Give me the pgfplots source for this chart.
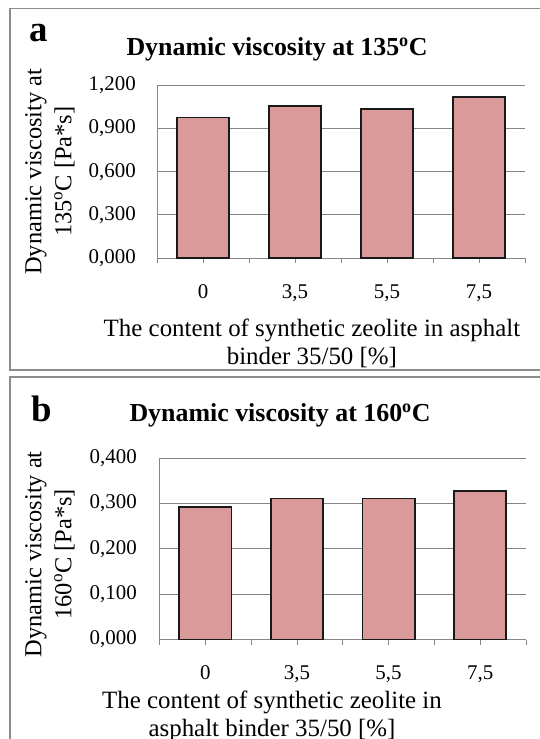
\documentclass[border=0pt]{standalone}
\usepackage{pgfplots}
\pgfplotsset{compat=1.18}
\usepackage{fontspec}
\setmainfont{Liberation Serif}
\definecolor{barfill}{HTML}{D99A99}
\definecolor{gridgray}{HTML}{868686}
\definecolor{framegray}{HTML}{8C8C8C}

\pgfplotsset{
  vischart/.style={
    scale only axis,
    xmin=-0.5, xmax=3.5, ymin=0,
    axis x line*=bottom, axis y line*=left,
    axis line style={gridgray, line width=1bp, -},
    ymajorgrids, major grid style={gridgray, line width=1bp},
    xtick={0,1,2,3}, xticklabels={0,{3,5},{5,5},{7,5}},
    minor xtick={-0.5,0.5,1.5,2.5,3.5},
    xtick style={gridgray, line width=0.8bp},
    tick align=inside,
    major tick length=5bp, minor tick length=5bp,
    ytick style={draw=none},
    /pgf/number format/fixed,
    /pgf/number format/fixed zerofill,
    /pgf/number format/precision=3,
    /pgf/number format/use comma,
    /pgf/number format/1000 sep={},
    /pgf/number format/assume math mode=true,
    yticklabel style={font=\fontsize{21}{25}\selectfont, inner sep=0pt, anchor=east},
    xticklabel style={font=\fontsize{21}{25}\selectfont, inner sep=0pt, anchor=north},
    xlabel style={font=\fontsize{25}{28}\selectfont, align=center, inner sep=0pt, anchor=north},
    ylabel style={font=\fontsize{24.5}{30}\selectfont, align=center, inner sep=0pt, anchor=center},
    ybar, bar width=0.57,
  }
}

\begin{document}
\begin{tikzpicture}
\useasboundingbox (0,0) rectangle (540bp,-739bp);
% panel frames
\draw[framegray, line width=1.5bp] (540bp,-8.5bp) -- (10bp,-8.5bp) -- (10bp,-370bp) -- (540bp,-370bp);
\draw[framegray, line width=1.5bp] (540bp,-377bp) -- (10bp,-377bp) -- (10bp,-739bp);

% panel labels and titles
\node[anchor=base west, inner sep=0pt, font=\bfseries\fontsize{37}{40}\selectfont] at (29bp,-41bp) {a};
\node[anchor=base, inner sep=0pt, font=\bfseries\fontsize{26}{30}\selectfont] at (277bp,-55bp) {Dynamic viscosity at 135\textsuperscript{o}C};
\node[anchor=base west, inner sep=0pt, font=\bfseries\fontsize{37}{40}\selectfont] at (31bp,-421.5bp) {b};
\node[anchor=base, inner sep=0pt, font=\bfseries\fontsize{26}{30}\selectfont] at (280bp,-421bp) {Dynamic viscosity at 160\textsuperscript{o}C};

% panel a
\begin{axis}[vischart,
  at={(157bp,-258.3bp)}, anchor=south west,
  width=368bp, height=173.3bp,
  ymax=1.2, ytick={0,0.3,0.6,0.9,1.2},
  yticklabel style={xshift=-21bp},
  xticklabel style={yshift=-21.5bp},
  xlabel={The content of synthetic zeolite in asphalt\\binder 35/50 [\%]},
  xlabel style={at={(axis description cs:0.421,0)}, yshift=-60.2bp},
  ylabel={Dynamic viscosity at\\135\textsuperscript{o}C [Pa*s]},
  ylabel style={at={(axis description cs:-0.291,0.5)}},
]
\addplot[fill=barfill, draw=black!90, line width=1.7bp] coordinates {(0,0.976) (1,1.057) (2,1.032) (3,1.115)};
\end{axis}

% panel b
\begin{axis}[vischart,
  at={(159.5bp,-639.6bp)}, anchor=south west,
  width=366.5bp, height=181.6bp,
  ymax=0.4, ytick={0,0.1,0.2,0.3,0.4},
  yticklabel style={xshift=-22.5bp},
  xticklabel style={yshift=-20.5bp},
  xlabel={The content of synthetic zeolite in\\asphalt binder 35/50 [\%]},
  xlabel style={at={(axis description cs:0.307,0)}, yshift=-51bp},
  ylabel={Dynamic viscosity at\\160\textsuperscript{o}C [Pa*s]},
  ylabel style={at={(axis description cs:-0.2988,0.47)}},
]
\addplot[fill=barfill, draw=black!90, line width=1.7bp] coordinates {(0,0.292) (1,0.311) (2,0.311) (3,0.328)};
\end{axis}
\end{tikzpicture}
\end{document}
